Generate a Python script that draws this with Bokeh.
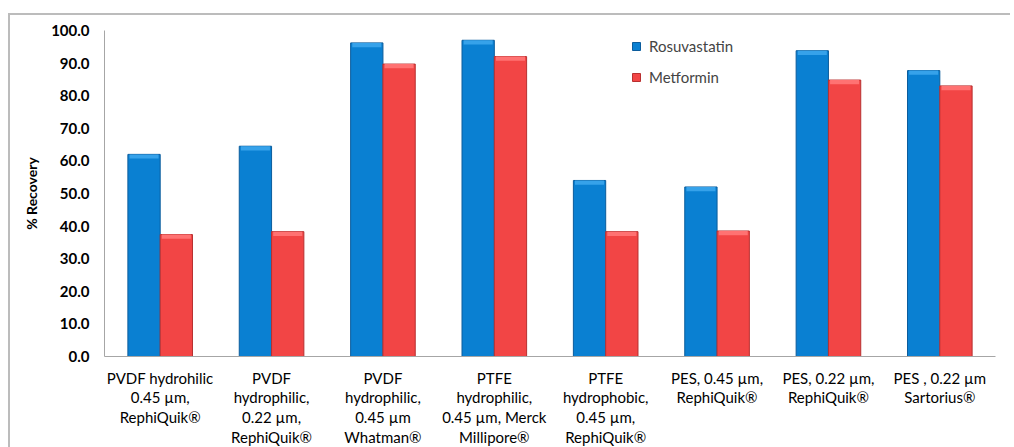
from bokeh.plotting import figure
from bokeh.models import (ColumnDataSource, FactorRange, FixedTicker, NumeralTickFormatter,
                          Legend, LegendItem)
from bokeh.transform import dodge
from bokeh.embed import file_html
from bokeh.resources import INLINE

categories = [
    "PVDF hydrohilic\n0.45 µm,\nRephiQuik®",
    "PVDF\nhydrophilic,\n0.22 µm,\nRephiQuik®",
    "PVDF\nhydrophilic,\n0.45 µm\nWhatman®",
    "PTFE\nhydrophilic,\n0.45 µm, Merck\nMillipore®",
    "PTFE\nhydrophobic,\n0.45 µm,\nRephiQuik®",
    "PES, 0.45 µm,\nRephiQuik®",
    "PES, 0.22 µm,\nRephiQuik®",
    "PES , 0.22 µm\nSartorius®",
]
rosuvastatin = [62.0, 64.5, 96.2, 97.0, 54.0, 52.0, 93.8, 87.7]
metformin = [37.4, 38.3, 89.7, 92.0, 38.3, 38.5, 84.8, 83.0]
y_ticks = [0, 10, 20, 30, 40, 50, 60, 70, 80, 90, 100]

FONT = "Lato"
BLUE = "#0a80d2"
BLUE_EDGE = "#0b5c9c"
BLUE_TOP = "#36a2ea"
RED = "#f24545"
RED_EDGE = "#b83030"
RED_TOP = "#ff7272"

bevel = [1.3] * len(categories)
src = ColumnDataSource(dict(
    cat=categories,
    ros=rosuvastatin,
    met=metformin,
    ros_b=[v - b for v, b in zip(rosuvastatin, bevel)],
    met_b=[v - b for v, b in zip(metformin, bevel)],
))

# figure element placed at (10, 15) with a 2px grey border on its top and left
p = figure(frame_width=891, frame_height=326, x_range=FactorRange(*categories), y_range=(0, 100),
           output_backend="svg", toolbar_location=None,
           min_border_left=94, min_border_right=15, min_border_top=15, min_border_bottom=88)
p.margin = (13, 0, 0, 8)
p.styles = {"border-top": "2px solid #bcbcbc", "border-left": "2px solid #bcbcbc"}
p.outline_line_color = None
p.xgrid.grid_line_color = None
p.ygrid.grid_line_color = None
p.background_fill_color = "white"
p.border_fill_color = "white"

bw = 0.29
r1 = p.vbar(x=dodge("cat", -bw / 2, range=p.x_range), top="ros", width=bw, source=src,
            fill_color=BLUE, line_color=BLUE_EDGE, line_width=1)
p.vbar(x=dodge("cat", -bw / 2, range=p.x_range), top="ros", bottom="ros_b", width=bw * 0.9,
       source=src, fill_color=BLUE_TOP, line_color=None)
r2 = p.vbar(x=dodge("cat", bw / 2, range=p.x_range), top="met", width=bw, source=src,
            fill_color=RED, line_color=RED_EDGE, line_width=1)
p.vbar(x=dodge("cat", bw / 2, range=p.x_range), top="met", bottom="met_b", width=bw * 0.9,
       source=src, fill_color=RED_TOP, line_color=None)

# y axis
ya = p.yaxis[0]
ya.ticker = FixedTicker(ticks=y_ticks)
ya.formatter = NumeralTickFormatter(format="0.0")
ya.major_tick_line_color = None
ya.minor_tick_line_color = None
ya.major_tick_out = 0
ya.major_label_standoff = 15
ya.major_label_text_font = FONT
ya.major_label_text_font_style = "bold"
ya.major_label_text_font_size = "15px"
ya.major_label_text_color = "black"
ya.axis_line_color = "#a6a6a6"
ya.axis_label = "% Recovery"
ya.axis_label_text_font = FONT
ya.axis_label_text_font_style = "bold"
ya.axis_label_text_font_size = "14px"
ya.axis_label_text_color = "black"
ya.axis_label_standoff = 8

# x axis
xa = p.xaxis[0]
xa.major_tick_line_color = None
xa.minor_tick_line_color = None
xa.major_tick_out = 0
xa.major_label_standoff = 12
xa.major_label_text_font = FONT
xa.major_label_text_font_size = "15px"
xa.major_label_text_color = "black"
xa.major_label_text_line_height = 1.1
xa.axis_line_color = "#a6a6a6"
xa.major_label_orientation = "horizontal"

legend = Legend(items=[LegendItem(label="Rosuvastatin", renderers=[r1]),
                       LegendItem(label="Metformin", renderers=[r2])],
                location=(527, 270), orientation="vertical",
                glyph_width=10, glyph_height=10, label_height=10, spacing=13,
                padding=0, margin=0, label_standoff=8,
                label_text_font=FONT, label_text_font_size="15px",
                border_line_color=None, background_fill_alpha=0)
p.add_layout(legend, "center")

open("out.html", "w").write(file_html(p, INLINE))
